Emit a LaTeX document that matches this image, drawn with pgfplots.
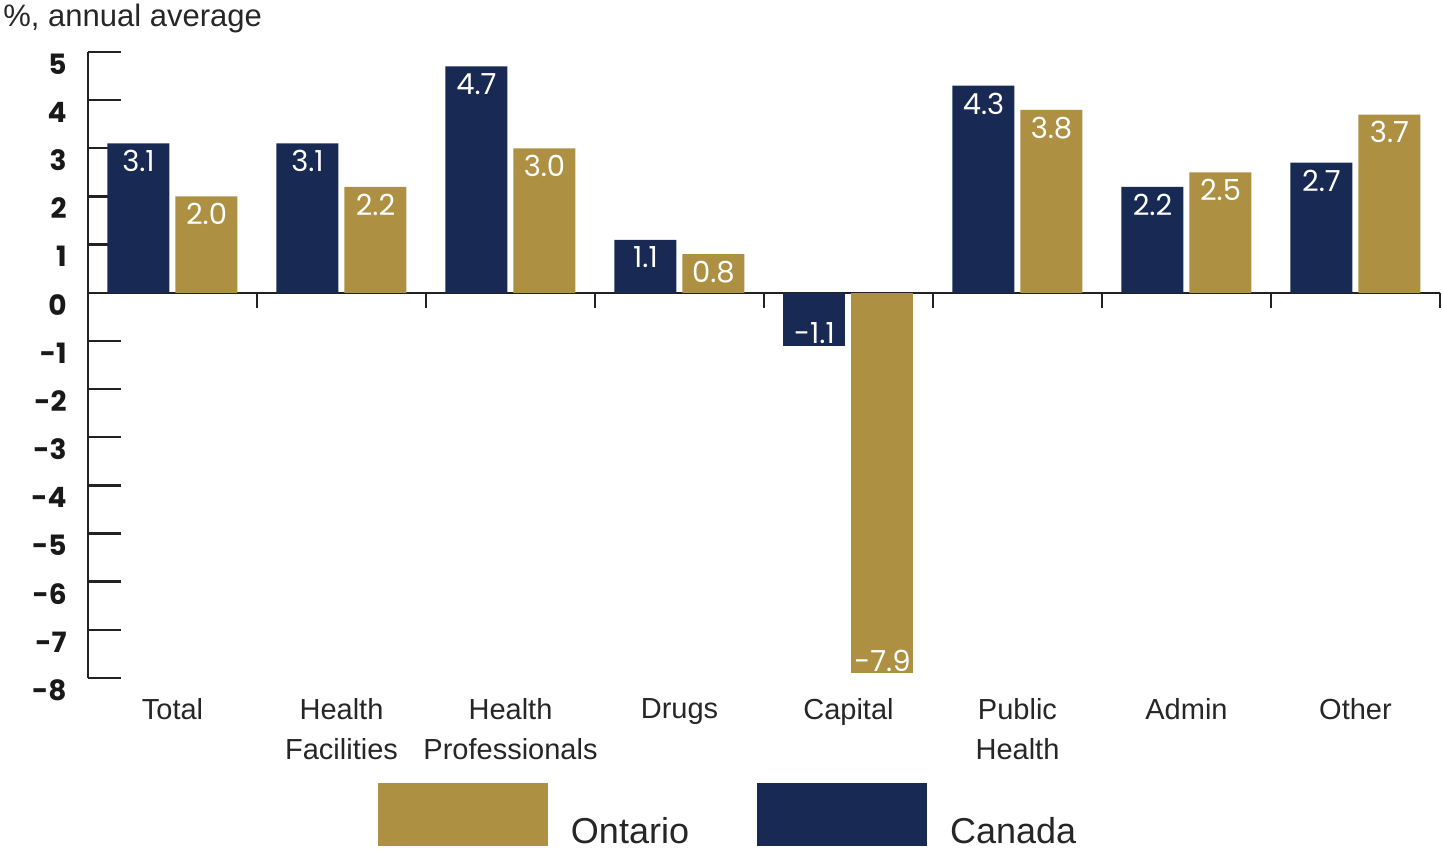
\documentclass[border=0pt]{standalone}
\usepackage{pgfplots}
\pgfplotsset{compat=1.18}
\usepackage{fontspec}
\setmainfont{Liberation Sans}
\newfontfamily\numfont{Poppins}
\definecolor{canada}{HTML}{182A54}
\definecolor{ontario}{HTML}{AE9042}
\definecolor{axiscol}{HTML}{222222}
\begin{document}
\begin{tikzpicture}
\begin{axis}[
  at={(0,0)}, anchor=south west,
  scale only axis, width=676pt, height=313pt,
  xmin=-0.5, xmax=7.5, ymin=-8, ymax=5,
  clip=false,
  ybar, bar width=31pt,
  axis y line*=left, axis x line*=bottom,
  x axis line style={draw=none},
  y axis line style={line width=1.2pt, color=axiscol},
  tick align=inside,
  ytick={-8,-7,-6,-5,-4,-3,-2,-1,0,1,2,3,4,5},
  ytick style={line width=1.2pt, color=axiscol, /pgfplots/major tick length=16.5pt},
  xtick={0,1,2,3,4,5,6,7},
  xtick style={draw=none},
  xticklabels={Total,Health\\Facilities,Health\\Professionals,Drugs,Capital,Public\\Health,Admin,Other},
  xticklabel style={align=center, font=\fontsize{14.5}{20}\selectfont, inner sep=0pt, anchor=north, yshift=-10pt, color=black!85},
  yticklabel style={font=\numfont\bfseries\fontsize{14}{14}\selectfont, inner sep=0pt, anchor=east, xshift=-10.5pt, yshift=-6pt, color=black!90},
  /pgf/number format/assume math mode=true,
  nodes near coords={\pgfmathprintnumber[fixed,fixed zerofill,precision=1]{\pgfplotspointmeta}},
  nodes near coords style={font=\numfont\fontsize{14.5}{15}\selectfont, text=white, inner sep=0pt, outer sep=0pt},
  legend style={at={(0.2145,-0.1677)}, anchor=north west, draw=none, fill=none, inner sep=0pt, outer sep=0pt,
    font=\fontsize{18}{18}\selectfont,
    nodes={inner sep=0pt, outer sep=0pt, text=black!85},
    /tikz/every odd column/.append style={column sep=11.5pt},
    /tikz/every even column/.append style={column sep=34pt}},
  legend columns=4,
  legend image code/.code={\fill[#1] (0pt,-7pt) rectangle (85pt,24.5pt);},
]
\draw[line width=1.2pt, color=axiscol] (axis cs:-0.5,0) -- (axis cs:7.5,0);
\pgfplotsinvokeforeach{0.5,1.5,2.5,3.5,4.5,5.5,6.5,7.5}{\draw[line width=1.2pt, color=axiscol] (axis cs:#1,0) -- ++(0pt,-7.5pt);}
\addplot[fill=ontario, draw=none, bar shift=17pt,
  every node near coord/.append style={anchor=north, yshift=-3.5pt}]
  coordinates {(0,2.0) (1,2.2) (2,3.0) (3,0.8) (5,3.8) (6,2.5) (7,3.7)};
\addlegendentry{Ontario}
\addplot[fill=canada, draw=none, bar shift=-17pt,
  every node near coord/.append style={anchor=north, yshift=-3.5pt}]
  coordinates {(0,3.1) (1,3.1) (2,4.7) (3,1.1) (5,4.3) (6,2.2) (7,2.7)};
\addlegendentry{Canada}
\addplot[fill=ontario, draw=none, bar shift=17pt, forget plot,
  every node near coord/.append style={anchor=south, yshift=1pt}]
  coordinates {(4,-7.9)};
\addplot[fill=canada, draw=none, bar shift=-17pt, forget plot,
  every node near coord/.append style={anchor=south, yshift=1pt}]
  coordinates {(4,-1.1)};
\end{axis}
\node[anchor=base west, inner sep=0pt, font=\fontsize{15.5}{16}\selectfont, color=black!85] at (-42.5pt,325.5pt) {\%, annual average};
\path[use as bounding box] (-44pt,-85.5pt) rectangle (677pt,339pt);
\end{tikzpicture}
\end{document}
